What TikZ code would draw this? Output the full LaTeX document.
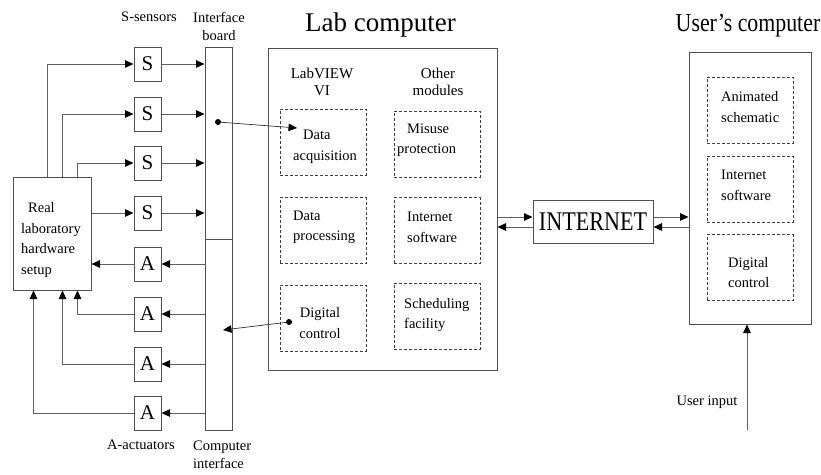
\documentclass[tikz,border=0pt]{standalone}
\usepackage{fontspec}
\setmainfont{Liberation Serif}
\usetikzlibrary{arrows.meta,calc}
\definecolor{linegray}{HTML}{606060}
\definecolor{boxgray}{HTML}{505050}
\definecolor{dashgray}{HTML}{404040}
\begin{document}
\begin{tikzpicture}[x=1pt,y=-1pt,
  line/.style={draw=linegray, line width=1pt},
  arr/.style={line, -{Triangle[length=8.5pt,width=7.5pt,color=black]}},
  thinarr/.style={draw=black!80, line width=0.7pt, -{Triangle[length=8.5pt,width=7.5pt,color=black]}},
  box/.style={draw=boxgray, line width=1pt, inner sep=0pt},
  sabox/.style={box, minimum width=27pt, minimum height=34pt, font=\fontsize{21}{21}\selectfont},
  dbox/.style={draw=dashgray, dash pattern=on 3pt off 2pt, line width=0.9pt, inner sep=0pt, minimum width=86pt, minimum height=66pt},
  txt/.style={font=\fontsize{14.5}{20.5}\selectfont, inner sep=0pt},
  hdr/.style={font=\fontsize{15}{17}\selectfont, inner sep=0pt, align=center},
  lbl/.style={font=\fontsize{14.5}{18}\selectfont, inner sep=0pt},
  title/.style={font=\fontsize{26}{26}\selectfont, inner sep=0pt, anchor=base},
  dotnode/.style={circle, fill=black, inner sep=0pt, minimum size=6pt}
]
\useasboundingbox (0,0) rectangle (821,474);
\fill[white] (0,0) rectangle (821,474);

% titles
\node[title, font=\fontsize{27}{27}\selectfont] (tlab) at (380.5,31) {Lab computer};
\node[title, xscale=0.84] (tuser) at (748,31) {User's computer};
\node[lbl] (tsens) at (149,17) {S-sensors};
\node[lbl, align=center] (tboard) at (219,26) {Interface\\board};
\node[lbl] (tact) at (141,445) {A-actuators};
\node[lbl, align=left, anchor=west] (tci) at (193,455) {Computer\\interface};

% real lab
\node[box, minimum width=78pt, minimum height=113pt] (lab) at (52,233.5) {};
\node[txt, align=left, anchor=west] (labtxt) at (21,240) {\hspace{7pt}Real\\laboratory\\hardware\\setup};

% interface board
\node[box, minimum width=27pt, minimum height=383pt] (board) at (218.5,238.5) {};
\coordinate (divy) at (0,239);
\draw[box] (board.west |- divy) -- (board.east |- divy);

% S and A boxes
\node[sabox] (s1) at (147.5,64) {S};
\node[sabox] (s2) at (147.5,114) {S};
\node[sabox] (s3) at (147.5,163) {S};
\node[sabox] (s4) at (147.5,213) {S};
\node[sabox] (a1) at (147.5,264) {A};
\node[sabox] (a2) at (147.5,314) {A};
\node[sabox] (a3) at (147.5,364) {A};
\node[sabox] (a4) at (147.5,413) {A};

% lab -> S
\draw[arr] ([xshift=35pt]lab.north west) |- (s1.west);
\draw[arr] ([xshift=50pt]lab.north west) |- (s2.west);
\draw[arr] ([xshift=65pt]lab.north west) |- (s3.west);
\draw[arr] (lab.east |- s4) -- (s4.west);
% S -> board
\foreach \n in {s1,s2,s3,s4}
  \draw[arr] (\n.east) -- (board.west |- \n);
% board -> A
\foreach \n in {a1,a2,a3,a4}
  \draw[arr] (board.west |- \n) -- (\n.east);
% A -> lab
\draw[arr] (a1.west) -- (lab.east |- a1);
\draw[arr] (a2.west) -| ([xshift=65pt]lab.south west);
\draw[arr] (a3.west) -| ([xshift=50pt]lab.south west);
\draw[arr] (a4.west) -| ([xshift=21pt]lab.south west);

% lab computer
\node[box, minimum width=229pt, minimum height=322pt] (lc) at (382.5,209) {};
\node[hdr] (hlv) at (322,82) {LabVIEW\\VI};
\node[hdr] (hom) at (438,82) {Other\\modules};
\node[dbox] (d11) at (323,142) {};
\node[dbox] (d12) at (437,144) {};
\node[dbox] (d21) at (323,230.5) {};
\node[dbox] (d22) at (437,230.5) {};
\node[dbox] (d31) at (323,318) {};
\node[dbox] (d32) at (437,316) {};
\node[txt, align=left, anchor=west] (t11) at (293,147) {\hspace{10pt}Data\\acquisition};
\node[txt, align=left, anchor=west] (t12) at (397,140) {\hspace{10pt}Misuse\\protection};
\node[txt, align=left, anchor=west] (t21) at (293,227.5) {Data\\processing};
\node[txt, align=left, anchor=west] (t22) at (407,227.5) {Internet\\software};
\node[txt, align=center] (t31) at (320,323) {Digital\\control};
\node[txt, align=left, anchor=west] (t32) at (404,315) {Scheduling\\facility};

% dots
\node[dotnode] (dot1) at (218,122) {};
\coordinate (acqin) at (297,128);
\draw[thinarr] (dot1) -- (acqin);
\node[dotnode] (dot2) at (289,322) {};
\coordinate (dcout) at (223,330);
\draw[thinarr] (dot2) -- (dcout);

% internet
\node[box, minimum width=120pt, minimum height=43pt] (inet) at (593,221.5) {};
\node[inner sep=0pt, font=\fontsize{27}{27}\selectfont, xscale=0.82] (inettxt) at (593,222) {INTERNET};
\coordinate (iu) at ([yshift=4.5pt]inet.west);
\coordinate (il) at ([yshift=-5.5pt]inet.west);
\coordinate (iru) at ([yshift=4.5pt]inet.east);
\coordinate (irl) at ([yshift=-5.5pt]inet.east);

% user's computer
\node[box, minimum width=122pt, minimum height=272pt] (uc) at (750,188) {};
\node[dbox] (u1) at (750,110) {};
\node[dbox] (u2) at (750,189) {};
\node[dbox] (u3) at (750,267.5) {};
\node[txt, align=left, anchor=west] (ut1) at (721,107) {Animated\\schematic};
\node[txt, align=left, anchor=west] (ut2) at (721,185.5) {Internet\\software};
\node[txt, align=left, anchor=west] (ut3) at (728,272.5) {Digital\\control};

\draw[arr] (lc.east |- iu) -- (iu);
\draw[arr] (il) -- (lc.east |- il);
\draw[arr] (iru) -- (uc.west |- iru);
\draw[arr] (uc.west |- irl) -- (irl);

% user input
\coordinate (uin) at (747,430);
\draw[arr] (uin) -- (uin |- uc.south);
\node[lbl] (uinl) at (707,402) {User input};
\end{tikzpicture}
\end{document}
